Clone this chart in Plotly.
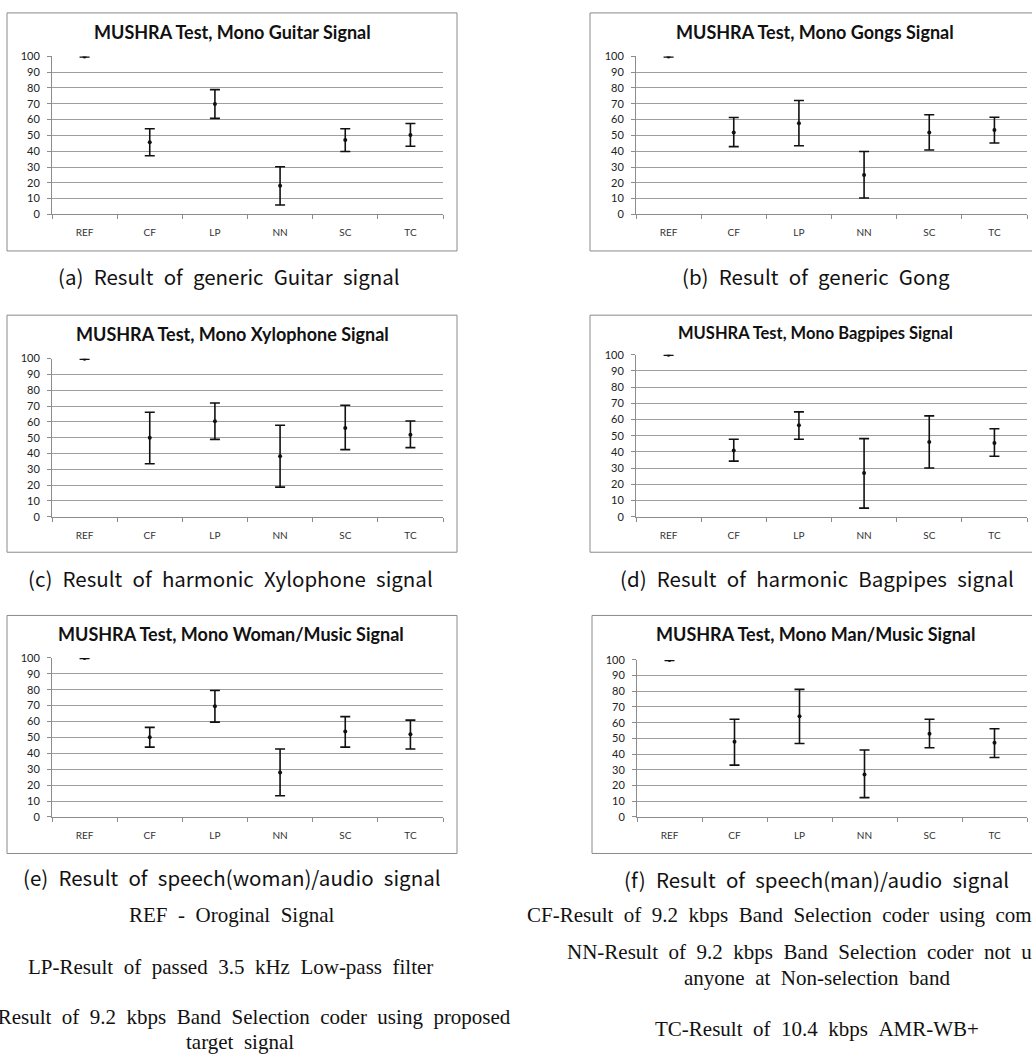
import plotly.graph_objects as go

W, H = 1032, 1059

categories = ["REF", "CF", "LP", "NN", "SC", "TC"]

guitar_mean = [100, 45.6, 69.8, 18.1, 47.1, 50.2]
guitar_hi = [100.3, 54.2, 79.0, 30.2, 54.2, 57.5]
guitar_lo = [99.7, 37.1, 60.8, 6.0, 39.8, 43.1]

gongs_mean = [100, 51.9, 57.7, 25.0, 51.9, 53.5]
gongs_hi = [100.3, 61.3, 72.1, 39.8, 63.1, 61.5]
gongs_lo = [99.7, 42.9, 43.5, 10.4, 40.8, 45.2]

xylo_mean = [100, 49.9, 60.3, 38.3, 56.1, 51.9]
xylo_hi = [100.3, 66.1, 71.9, 57.8, 70.5, 60.5]
xylo_lo = [99.7, 33.5, 48.9, 18.7, 42.4, 43.7]

bag_mean = [100, 40.8, 56.5, 26.9, 46.1, 45.5]
bag_hi = [100.3, 47.8, 64.7, 48.2, 62.2, 54.3]
bag_lo = [99.7, 34.3, 47.8, 5.3, 30.0, 37.3]

woman_mean = [100, 50.1, 69.6, 28.0, 53.8, 52.0]
woman_hi = [100.3, 56.3, 79.5, 42.7, 63.1, 60.9]
woman_lo = [99.7, 43.9, 59.6, 13.3, 43.9, 42.7]

man_mean = [100, 47.8, 64.1, 27.1, 53.0, 47.2]
man_hi = [100.3, 62.2, 81.2, 42.6, 62.2, 56.2]
man_lo = [99.7, 33.0, 46.8, 12.3, 44.1, 37.8]

titles = [
    "MUSHRA Test, Mono Guitar Signal",
    "MUSHRA Test, Mono Gongs Signal",
    "MUSHRA Test, Mono Xylophone Signal",
    "MUSHRA Test, Mono Bagpipes Signal",
    "MUSHRA Test, Mono Woman/Music Signal",
    "MUSHRA Test, Mono Man/Music Signal",
]
captions = [
    "(a) Result of generic Guitar signal",
    "(b) Result of generic Gong",
    "(c) Result of harmonic Xylophone signal",
    "(d) Result of harmonic Bagpipes signal",
    "(e) Result of speech(woman)/audio signal",
    "(f) Result of speech(man)/audio signal",
]
footer_texts = [
    "REF - Oroginal Signal",
    "LP-Result of passed 3.5 kHz Low-pass filter",
    "SC-Result of 9.2 kbps Band Selection coder using proposed",
    "target signal",
    "CF-Result of 9.2 kbps Band Selection coder using comfort noise",
    "NN-Result of 9.2 kbps Band Selection coder not using",
    "anyone at Non-selection band",
    "TC-Result of 10.4 kbps AMR-WB+",
]
y_ticks = [0, 10, 20, 30, 40, 50, 60, 70, 80, 90, 100]

series = [
    (guitar_mean, guitar_hi, guitar_lo),
    (gongs_mean, gongs_hi, gongs_lo),
    (xylo_mean, xylo_hi, xylo_lo),
    (bag_mean, bag_hi, bag_lo),
    (woman_mean, woman_hi, woman_lo),
    (man_mean, man_hi, man_lo),
]

# layout geometry in pixels
plot_px = [  # x0, x1, ytop, ybottom
    (52, 443, 50, 210),
    (636, 1027, 50, 210),
    (52, 443, 356, 516),
    (636, 1027, 352, 516),
    (52, 443, 659, 820),
    (637, 1027, 661, 820),
]
box_px = [
    (7, 457, 6, 247),
    (590, 1045, 6, 247),
    (7, 457, 312, 552),
    (590, 1045, 312, 552),
    (7, 457, 616, 857),
    (592, 1045, 616, 857),
]
title_px = [(232, 25, 18), (815, 25, 18), (232, 331, 18), (815, 330, 16.5), (231, 635, 18), (815, 635, 18)]
caption_px = [(229, 272), (816, 272), (230, 578), (817, 578), (232, 881), (816, 883)]
footer_px = [(231, 919), (230, 972), (238, 1023), (240, 1048),
             (822, 919), (817, 957), (817, 983), (817, 1035)]

WIDE = "\u2002"


def px(x):
    return x / W


def py(y):
    return 1 - y / H


fig = go.Figure()
layout = dict(
    width=W, height=H, margin=dict(l=0, r=0, t=0, b=0),
    paper_bgcolor="white", plot_bgcolor="white", showlegend=False,
    shapes=[], annotations=[],
)

for i, (mean, hi, lo) in enumerate(series):
    n = "" if i == 0 else str(i + 1)
    err_up = [h - m for h, m in zip(hi, mean)]
    err_dn = [m - l for m, l in zip(mean, lo)]
    fig.add_trace(go.Scatter(
        x=categories, y=mean, mode="markers",
        xaxis="x" + n, yaxis="y" + n,
        marker=dict(color="#111111", size=4),
        error_y=dict(type="data", symmetric=False, array=err_up, arrayminus=err_dn,
                     color="#111111", thickness=1.6, width=5),
        hoverinfo="skip",
    ))
    x0, x1, yt, yb = plot_px[i]
    layout["xaxis" + n] = dict(
        domain=[px(x0), px(x1)], anchor="y" + n, type="category",
        range=[-0.5, 5.5], showgrid=False, showline=True, linecolor="#8c8c8c", linewidth=1,
        ticks="outside", tickson="boundaries", ticklen=4, tickcolor="#8c8c8c",
        tickfont=dict(family="Lato", size=10, color="#333333"), ticklabelstandoff=9,
        zeroline=False, fixedrange=True,
    )
    layout["yaxis" + n] = dict(
        domain=[py(yb), py(yt)], anchor="x" + n, range=[0, 100],
        tickvals=y_ticks, showgrid=True, gridcolor="#9e9e9e", gridwidth=1,
        showline=True, linecolor="#8c8c8c", linewidth=1,
        ticks="outside", ticklen=4, tickcolor="#8c8c8c",
        tickfont=dict(family="Lato", size=11, color="#222222"), ticklabelstandoff=5,
        zeroline=False, fixedrange=True,
    )
    bx0, bx1, by0, by1 = box_px[i]
    layout["shapes"].append(dict(
        type="rect", xref="paper", yref="paper",
        x0=px(bx0), x1=px(bx1), y0=py(by1), y1=py(by0),
        line=dict(color="#8a8a8a", width=1), fillcolor="rgba(0,0,0,0)", layer="below",
    ))
    tx, ty, ts = title_px[i]
    layout["annotations"].append(dict(
        text="<b>" + titles[i] + "</b>", x=px(tx), y=py(ty), xref="paper", yref="paper",
        xanchor="center", yanchor="middle", showarrow=False,
        font=dict(family="Lato", size=ts, color="#111111"),
    ))
    cx, cy = caption_px[i]
    layout["annotations"].append(dict(
        text=captions[i].replace(" ", WIDE), x=px(cx), y=py(cy), xref="paper", yref="paper",
        xanchor="center", yanchor="middle", showarrow=False,
        font=dict(family="Noto Sans CJK KR", size=20.5, color="#111111"),
    ))

for t, (fx, fy) in zip(footer_texts, footer_px):
    layout["annotations"].append(dict(
        text=t.replace(" ", WIDE), x=px(fx), y=py(fy), xref="paper", yref="paper",
        xanchor="center", yanchor="middle", showarrow=False,
        font=dict(family="Liberation Serif", size=21, color="#111111"),
    ))

fig.update_layout(**layout)
fig.write_html(
    "out.html",
    config={"displayModeBar": False},
    post_script="document.body.style.margin='0';document.body.style.overflow='hidden';",
)
